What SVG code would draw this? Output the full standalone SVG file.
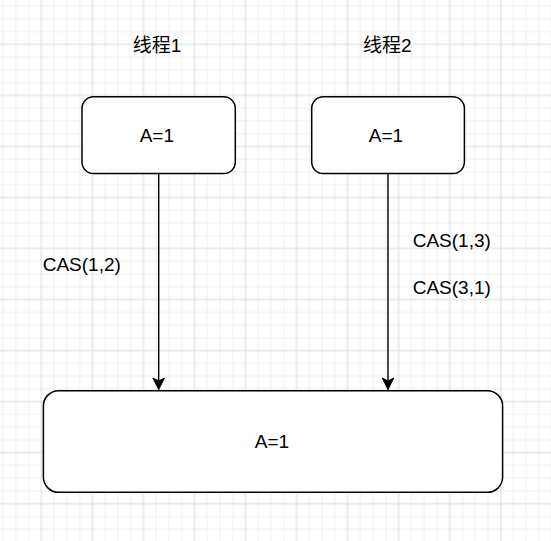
<svg xmlns="http://www.w3.org/2000/svg" width="551" height="541" viewBox="0 0 551 541">
  <style>
    .node { fill: #ffffff; stroke: #000000; stroke-width: 1.5; }
    .lbl { font-family: "Liberation Sans", Arial, "Noto Sans CJK SC", sans-serif; font-size: 19px; fill: #000000; }
    .mid { text-anchor: middle; }
    .edge { stroke: #000000; stroke-width: 1.4; fill: none; }
  </style>
  <defs>
    <pattern id="grid" patternUnits="userSpaceOnUse" x="-9.75" y="-6.75" width="51.05" height="51.05">
      <rect x="12.26" y="0" width="1" height="51.05" fill="#efefef"/>
      <rect x="25.02" y="0" width="1" height="51.05" fill="#efefef"/>
      <rect x="37.79" y="0" width="1" height="51.05" fill="#efefef"/>
      <rect x="0" y="12.26" width="51.05" height="1" fill="#efefef"/>
      <rect x="0" y="25.02" width="51.05" height="1" fill="#efefef"/>
      <rect x="0" y="37.79" width="51.05" height="1" fill="#efefef"/>
      <rect x="-0.5" y="0" width="1" height="51.05" fill="#dadada"/>
      <rect x="0" y="-0.5" width="51.05" height="1" fill="#dadada"/>
      <rect x="50.55" y="0" width="1" height="51.05" fill="#dadada"/>
      <rect x="0" y="50.55" width="51.05" height="1" fill="#dadada"/>
    </pattern>
    <marker id="arrow" markerUnits="userSpaceOnUse" markerWidth="14" markerHeight="14" viewBox="-13 -7 14 14" refX="0" refY="0" orient="auto">
      <path d="M0,0 L-11.5,-5.8 L-8.5,0 L-11.5,5.8 Z" fill="#000000" stroke="#000000" stroke-width="1"/>
    </marker>
  </defs>
  <rect width="551" height="541" fill="#ffffff"/>
  <rect width="551" height="541" fill="url(#grid)"/>

  <g id="connectors">
    <line class="edge" x1="158.7" y1="174" x2="158.7" y2="389.5" marker-end="url(#arrow)"/>
    <line class="edge" x1="388" y1="174" x2="388" y2="389.5" marker-end="url(#arrow)"/>
    <text class="lbl" x="42.7" y="270.7">CAS(1,2)</text>
    <text class="lbl" x="412.7" y="246.7">CAS(1,3)</text>
    <text class="lbl" x="412.7" y="294">CAS(3,1)</text>
  </g>

  <g id="title1">
    <text class="lbl mid" x="157" y="51.7">线程1</text>
  </g>
  <g id="title2">
    <text class="lbl mid" x="387.2" y="51.7">线程2</text>
  </g>

  <g id="box1">
    <rect class="node" x="82" y="96.8" width="153.3" height="76.8" rx="11.5" ry="11.5"/>
    <text class="lbl mid" x="156.8" y="141.7">A=1</text>
  </g>
  <g id="box2">
    <rect class="node" x="311.7" y="96.8" width="152.7" height="76.8" rx="11.5" ry="11.5"/>
    <text class="lbl mid" x="386" y="141.7">A=1</text>
  </g>
  <g id="shared">
    <rect class="node" x="43.4" y="390.7" width="459.2" height="101.6" rx="15.2" ry="15.2"/>
    <text class="lbl mid" x="272" y="448.3">A=1</text>
  </g>
</svg>
